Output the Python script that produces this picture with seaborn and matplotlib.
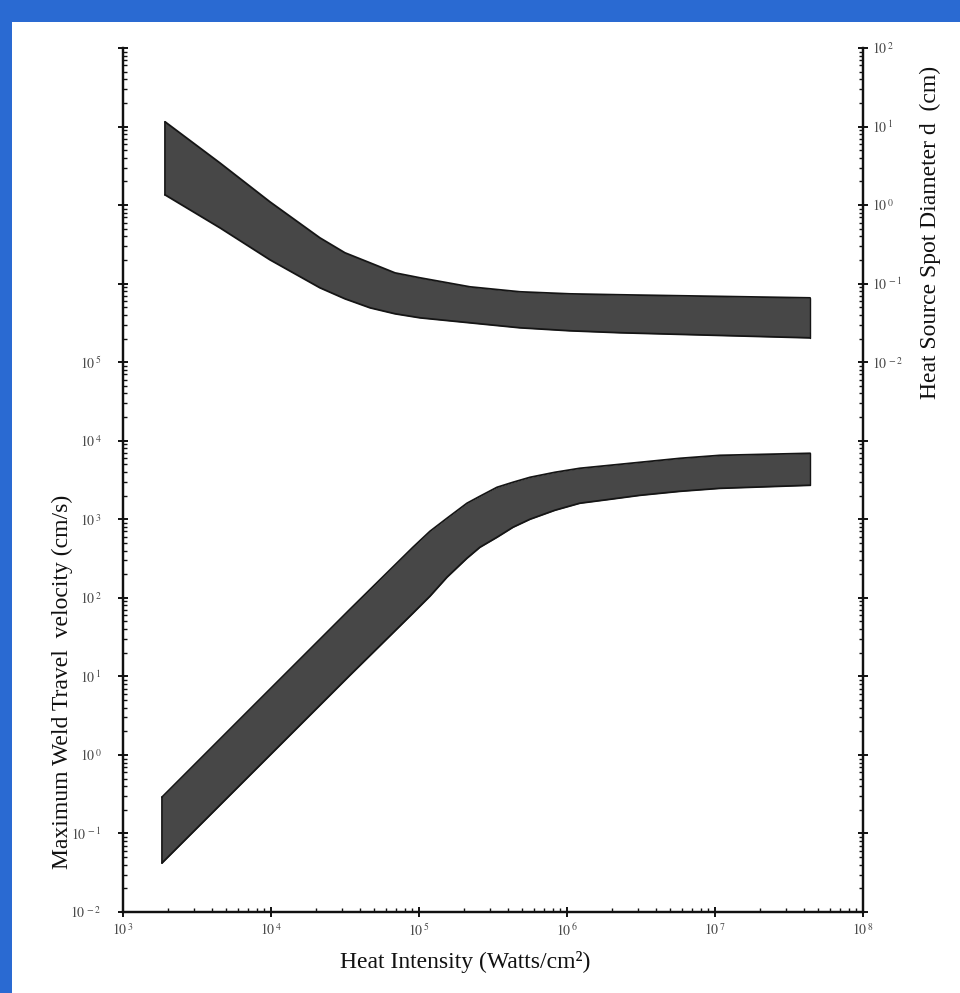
import numpy as np
import pandas as pd
import matplotlib
matplotlib.use("Agg")
import matplotlib.pyplot as plt
import seaborn as sns
from matplotlib.ticker import LogLocator, NullFormatter, FixedLocator, FixedFormatter
from matplotlib.patches import Rectangle

# ---------------- data ----------------
# Lower band: maximum weld travel velocity (cm/s) vs heat intensity (W/cm^2)
vel_intensity = [1834, 7211, 34200, 91000, 118600, 154500, 210900, 258000, 336500,
                 431500, 562000, 829000, 1.22e6, 1.95e6, 3.11e6, 5.81e6, 1.08e7, 4.39e7]
vel_upper = [0.290, 3.83, 71.6, 440, 703, 1030, 1600, 1963, 2553,
             2958, 3420, 3963, 4457, 4864, 5309, 5971, 6516, 6918]
vel_lower = [0.042, 0.553, 10.35, 63.7, 104.8, 182.8, 319, 440, 590,
             791, 1000, 1303, 1600, 1795, 2018, 2270, 2477, 2710]

# Upper band: heat source spot diameter (cm) vs heat intensity (W/cm^2)
dia_intensity = [1923, 4520, 9840, 21400, 31600, 46700, 68900, 101600,
                 221300, 481000, 1.047e6, 2.28e6, 4.39e7]
dia_upper = [11.5, 3.44, 1.10, 0.383, 0.247, 0.184, 0.137, 0.1186,
             0.0910, 0.0787, 0.0741, 0.0721, 0.0659]
dia_lower = [1.35, 0.513, 0.201, 0.0885, 0.0641, 0.0492, 0.0413, 0.0367,
             0.0317, 0.0274, 0.0251, 0.0237, 0.0204]

x_exponents = [3, 4, 5, 6, 7, 8]
left_exponents = [-2, -1, 0, 1, 2, 3, 4, 5]
right_exponents = [-2, -1, 0, 1, 2]

x_label = "Heat Intensity (Watts/cm\u00b2)"
left_label = "Maximum Weld Travel  velocity (cm/s)"
right_label = "Heat Source Spot Diameter d  (cm)"

# ---------------- styling ----------------
sns.set_theme(style="ticks")
plt.rcParams["font.family"] = ["Liberation Serif", "DejaVu Serif"]
plt.rcParams["mathtext.fontset"] = "stix"

W, H = 960, 993
fig = plt.figure(figsize=(W / 100, H / 100), dpi=100)
fig.patch.set_facecolor("#2a6ad2")
fig.add_artist(Rectangle((12 / W, 0), 1 - 12 / W, (H - 22) / H,
                         transform=fig.transFigure, facecolor="white",
                         edgecolor="none", zorder=0))

ax = fig.add_axes([123 / W, (H - 912) / H, (863 - 123) / W, (912 - 48) / H])
ax.set_facecolor("none")
ax.set_xscale("log")
ax.set_yscale("log")
ax.set_xlim(1e3, 1e8)
ax.set_ylim(1e-2, 1e9)

ax2 = ax.twinx()
ax2.set_yscale("log")
ax2.set_ylim(1e-9, 1e2)

band_face = "#474747"
band_edge = "#151515"

# lower band (left axis)
vel_df = pd.DataFrame({"intensity": vel_intensity * 2,
                       "velocity": vel_upper + vel_lower,
                       "edge": ["upper"] * len(vel_upper) + ["lower"] * len(vel_lower)})
ax.fill_between(vel_intensity, vel_lower, vel_upper, color=band_face, lw=0, zorder=2)
sns.lineplot(data=vel_df, x="intensity", y="velocity", units="edge", estimator=None,
             color=band_edge, lw=1.3, ax=ax, zorder=3, sort=False)
ax.plot([vel_intensity[0]] * 2, [vel_lower[0], vel_upper[0]], color=band_edge, lw=1.3, zorder=3)
ax.plot([vel_intensity[-1]] * 2, [vel_lower[-1], vel_upper[-1]], color=band_edge, lw=1.0, zorder=3)

# upper band (right axis)
dia_df = pd.DataFrame({"intensity": dia_intensity * 2,
                       "diameter": dia_upper + dia_lower,
                       "edge": ["upper"] * len(dia_upper) + ["lower"] * len(dia_lower)})
ax2.fill_between(dia_intensity, dia_lower, dia_upper, color=band_face, lw=0, zorder=2)
sns.lineplot(data=dia_df, x="intensity", y="diameter", units="edge", estimator=None,
             color=band_edge, lw=1.3, ax=ax2, zorder=3, sort=False)
ax2.plot([dia_intensity[0]] * 2, [dia_lower[0], dia_upper[0]], color=band_edge, lw=1.3, zorder=3)
ax2.plot([dia_intensity[-1]] * 2, [dia_lower[-1], dia_upper[-1]], color=band_edge, lw=1.0, zorder=3)

for line in ax.lines + ax2.lines:
    line.set_solid_joinstyle("round")

# ---------------- axes / ticks ----------------
tick_color = "#4a4a4a"
for a in (ax, ax2):
    a.spines["top"].set_visible(False)
    for s in ("left", "right", "bottom"):
        a.spines[s].set_linewidth(1.6)
        a.spines[s].set_color("#111111")
    a.set_xlabel("")
    a.set_ylabel("")


def lab(e):
    return rf"$10^{{\,{e}}}$"


# x axis
ax.xaxis.set_major_locator(FixedLocator([10.0 ** e for e in x_exponents]))
ax.xaxis.set_major_formatter(FixedFormatter([lab(e) for e in x_exponents]))
ax.xaxis.set_minor_locator(LogLocator(base=10, subs=np.arange(2, 10), numticks=50))
ax.xaxis.set_minor_formatter(NullFormatter())

# left y axis: ticks at every decade, labels up to 10^5
left_all = list(range(-2, 10))
ax.yaxis.set_major_locator(FixedLocator([10.0 ** e for e in left_all]))
ax.yaxis.set_major_formatter(FixedFormatter(
    [lab(e) if e in left_exponents else "" for e in left_all]))
ax.yaxis.set_minor_locator(LogLocator(base=10, subs=np.arange(2, 10), numticks=50))
ax.yaxis.set_minor_formatter(NullFormatter())

# right y axis: ticks at every decade, labels from 10^-2 to 10^2
right_all = list(range(-9, 3))
ax2.yaxis.set_major_locator(FixedLocator([10.0 ** e for e in right_all]))
ax2.yaxis.set_major_formatter(FixedFormatter(
    [lab(e) if e in right_exponents else "" for e in right_all]))
ax2.yaxis.set_minor_locator(LogLocator(base=10, subs=np.arange(2, 10), numticks=50))
ax2.yaxis.set_minor_formatter(NullFormatter())

ax.tick_params(axis="both", which="major", direction="inout", length=7, width=1.4,
               colors="#111111", labelcolor=tick_color, labelsize=10)
ax.tick_params(axis="both", which="minor", direction="in", length=3, width=1.0,
               colors="#111111")
ax.tick_params(axis="y", which="major", pad=12)
ax.tick_params(axis="x", which="major", pad=4)
ax2.tick_params(axis="y", which="major", direction="inout", length=7, width=1.4,
                colors="#111111", labelcolor=tick_color, labelsize=10, pad=3)
ax2.tick_params(axis="y", which="minor", direction="in", length=3, width=1.0,
                colors="#111111")

# axis titles
fig.text(465 / W, 1 - 962 / H, x_label, ha="center", va="center",
         fontsize=17, color="#111111")
fig.text(62 / W, 1 - 682 / H, left_label, ha="center", va="center",
         rotation=90, fontsize=17, color="#111111")
fig.text(930 / W, 1 - 232 / H, right_label, ha="center", va="center",
         rotation=90, fontsize=17, color="#111111")

fig.savefig("out.png", dpi=100, facecolor=fig.get_facecolor())
